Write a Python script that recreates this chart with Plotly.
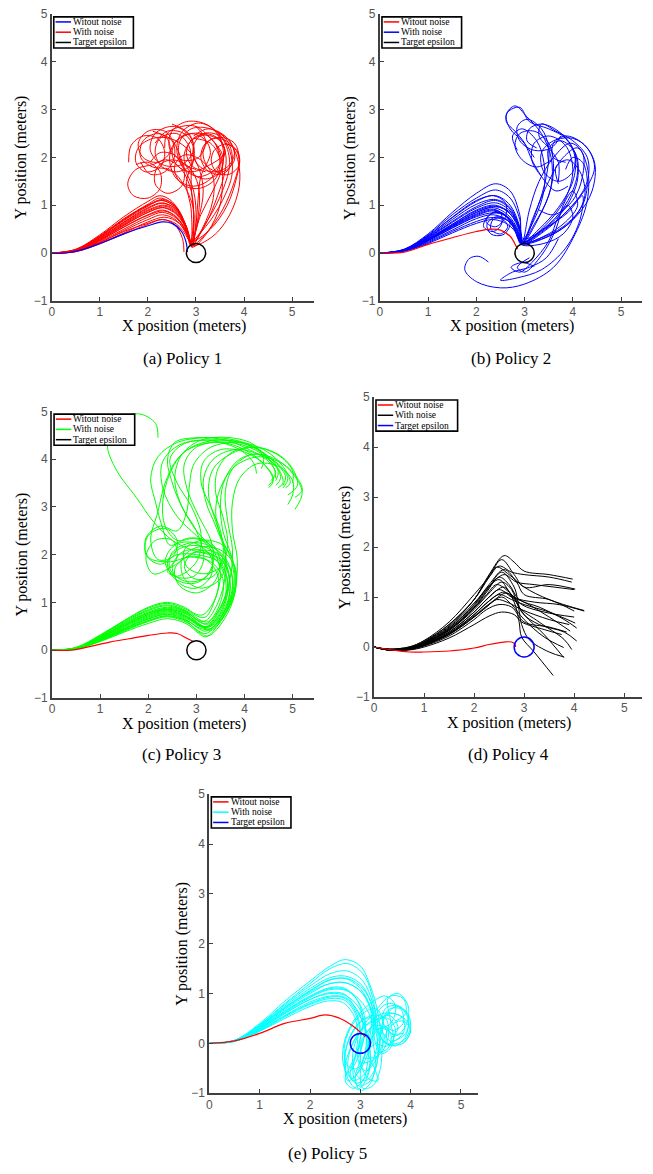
import plotly.graph_objects as go

W, H = 653, 1174

# ---------------- DATA ----------------
X_TITLE = "X position (meters)"
Y_TITLE = "Y position (meters)"
LEGEND_LABELS = ["Witout noise", "With noise", "Target epsilon"]
CAPTIONS = ["(a) Policy 1", "(b) Policy 2", "(c) Policy 3", "(d) Policy 4", "(e) Policy 5"]
X_TICKS = [0, 1, 2, 3, 4, 5]
Y_TICKS = [-1, 0, 1, 2, 3, 4, 5]
TARGET_CENTER = (3.0, 0.0)
TARGET_RADIUS = 0.2

# Policy 1
P1_NOMINAL = [(0, 0), (0.3, 0.0), (0.6, 0.06), (1, 0.2), (1.5, 0.4), (2, 0.57), (2.3, 0.65),
              (2.5, 0.62), (2.7, 0.45), (2.8, 0.2), (2.82, 0.02)]
P1_NOISY = [
    [(0, 0), (0.5, 0.03), (1, 0.2), (1.5, 0.42), (2, 0.65), (2.35, 0.75), (2.65, 0.62), (2.85, 0.3), (2.92, 0.12),
     (3.0, 0.6), (3.05, 1.2), (3.1, 1.6), (3.3, 2.1), (3.18, 2.38), (2.9, 2.5), (2.62, 2.38), (2.5, 2.1), (2.62, 1.82),
     (2.9, 1.7), (3.2, 1.8), (3.6, 2.1), (3.48, 2.38), (3.2, 2.5), (2.92, 2.38), (2.8, 2.1), (2.92, 1.82), (3.2, 1.7)],
    [(0, 0), (0.5, 0.04), (1, 0.24), (1.5, 0.5), (2, 0.75), (2.3, 0.85), (2.6, 0.72), (2.82, 0.4), (2.9, 0.15),
     (3.2, 0.4), (3.55, 0.9), (3.8, 1.5), (3.9, 1.95), (3.8, 2.3), (3.5, 2.42), (3.2, 2.3), (3.1, 2.0), (3.25, 1.72),
     (3.55, 1.65), (3.75, 1.9), (3.65, 2.35), (3.3, 2.6), (2.9, 2.6), (2.65, 2.3), (2.7, 1.9), (3.0, 1.75)],
    [(0, 0), (0.5, 0.05), (1, 0.28), (1.5, 0.58), (2, 0.85), (2.3, 0.95), (2.6, 0.8), (2.82, 0.45), (2.9, 0.2),
     (3.05, 0.7), (3.15, 1.3), (3.05, 1.8), (2.8, 2.2), (2.45, 2.4), (2.1, 2.4), (1.8, 2.2), (1.75, 1.9), (1.95, 1.7),
     (2.25, 1.8), (2.35, 2.1), (2.2, 2.4), (1.9, 2.45), (1.65, 2.25), (1.6, 1.9)],
    [(0, 0), (0.5, 0.06), (1, 0.32), (1.5, 0.65), (2, 0.95), (2.3, 1.05), (2.6, 0.9), (2.8, 0.5), (2.88, 0.22),
     (2.95, 0.7), (2.9, 1.3), (2.7, 1.75), (2.4, 1.95), (2.1, 1.85), (1.75, 1.75), (1.58, 1.45), (1.7, 1.2),
     (2.0, 1.15), (2.25, 1.35), (2.25, 1.7), (2.0, 1.9), (1.75, 1.85)],
    [(0, 0), (0.5, 0.07), (1, 0.36), (1.5, 0.72), (2, 1.02), (2.25, 1.15), (2.55, 1.0), (2.78, 0.6), (2.9, 0.25),
     (3.3, 0.5), (3.65, 1.0), (3.85, 1.6), (3.9, 1.95), (3.8, 2.2), (3.6, 2.28), (3.38, 2.15), (3.32, 1.9),
     (3.45, 1.68), (3.7, 1.65), (3.9, 1.85), (3.85, 2.15), (3.6, 2.3)],
    [(0, 0), (0.5, 0.04), (1, 0.22), (1.5, 0.47), (2, 0.7), (2.3, 0.8), (2.6, 0.68), (2.83, 0.35), (2.92, 0.15),
     (2.95, 0.8), (2.9, 1.4), (2.9, 1.9), (2.85, 2.25), (2.6, 2.5), (2.25, 2.4), (2.15, 2.1), (2.3, 1.8), (2.6, 1.7),
     (2.9, 1.85), (2.95, 2.2), (2.75, 2.5), (2.4, 2.55), (2.15, 2.3)],
    [(0, 0), (0.5, 0.05), (1, 0.3), (1.5, 0.62), (2, 0.9), (2.35, 1.0), (2.62, 0.85), (2.82, 0.45), (2.9, 0.18),
     (3.2, 0.6), (3.45, 1.2), (3.6, 1.7), (3.62, 2.05), (3.5, 2.35), (3.2, 2.47), (2.9, 2.35), (2.75, 2.0),
     (2.9, 1.68), (3.2, 1.55), (3.5, 1.7), (3.55, 2.05), (3.3, 2.4), (3.0, 2.65), (2.7, 2.65), (2.4, 2.5), (2.35, 2.2)],
    [(0, 0), (0.5, 0.06), (1, 0.34), (1.5, 0.7), (2, 1.0), (2.3, 1.1), (2.58, 0.95), (2.8, 0.55), (2.9, 0.22),
     (3.1, 0.8), (3.35, 1.3), (3.55, 1.8), (3.55, 2.25), (3.35, 2.6), (3.05, 2.72), (2.72, 2.55), (2.6, 2.2),
     (2.72, 1.8), (3.05, 1.6), (3.4, 1.75), (3.6, 2.1), (3.45, 2.5)],
    [(0, 0), (0.5, 0.05), (1, 0.26), (1.5, 0.55), (2, 0.8), (2.3, 0.9), (2.6, 0.75), (2.83, 0.38), (2.92, 0.15),
     (3.0, 0.7), (2.95, 1.3), (2.75, 1.8), (2.6, 2.2), (2.35, 2.55), (2.0, 2.55), (1.8, 2.3), (1.9, 2.0), (2.2, 1.9),
     (2.45, 2.1), (2.4, 2.4), (2.1, 2.55)],
    [(0, 0), (0.5, 0.08), (1, 0.38), (1.5, 0.76), (2, 1.08), (2.25, 1.2), (2.5, 1.08), (2.75, 0.65), (2.88, 0.25),
     (3.2, 0.55), (3.55, 1.1), (3.75, 1.65), (3.7, 2.15), (3.5, 2.45), (3.15, 2.5), (2.95, 2.25), (3.0, 1.9),
     (3.3, 1.7), (3.65, 1.8), (3.8, 2.1), (3.6, 2.45), (3.25, 2.6), (2.95, 2.45)],
    [(0, 0), (0.5, 0.03), (1, 0.19), (1.5, 0.4), (2, 0.6), (2.3, 0.7), (2.6, 0.6), (2.82, 0.32), (2.92, 0.12),
     (3.25, 0.45), (3.5, 1.0), (3.55, 1.6), (3.5, 2.1), (3.25, 2.45), (2.9, 2.5), (2.55, 2.3), (2.45, 1.95),
     (2.6, 1.55), (2.95, 1.4), (3.3, 1.55), (3.5, 1.9), (3.4, 2.3)],
    [(0, 0), (0.5, 0.05), (1, 0.3), (1.5, 0.6), (2, 0.88), (2.35, 0.98), (2.62, 0.82), (2.82, 0.45), (2.9, 0.2),
     (2.95, 0.9), (2.7, 1.5), (2.45, 1.75), (2.1, 1.8), (1.85, 2.0), (1.9, 2.35), (2.2, 2.5), (2.5, 2.35),
     (2.55, 2.0), (2.35, 1.7), (2.05, 1.65), (1.85, 1.9)],
    [(0, 0), (0.5, 0.03), (1, 0.22), (1.5, 0.45), (2, 0.62), (2.3, 0.7), (2.55, 0.6), (2.72, 0.3), (2.75, 0.02)],
    [(0, 0), (0.5, 0.07), (1, 0.35), (1.5, 0.7), (2, 1.0), (2.3, 1.12), (2.58, 0.98), (2.8, 0.55), (2.9, 0.22),
     (3.05, 0.8), (3.05, 1.4), (2.85, 1.8), (2.5, 1.95), (2.2, 1.8), (2.15, 1.45), (2.4, 1.25), (2.7, 1.4),
     (2.75, 1.75), (2.55, 2.05), (2.25, 2.1), (2.05, 1.9)],
    [(0, 0), (0.5, 0.05), (1, 0.28), (1.5, 0.58), (2, 0.85), (2.35, 0.95), (2.62, 0.8), (2.84, 0.42), (2.92, 0.16),
     (3.35, 0.35), (3.7, 0.8), (3.9, 1.4), (3.88, 1.9), (3.7, 2.3), (3.35, 2.4), (3.15, 2.15), (3.25, 1.8),
     (3.55, 1.7), (3.8, 1.95), (3.7, 2.35), (3.4, 2.55)],
    [(0, 0), (0.5, 0.06), (1, 0.32), (1.5, 0.64), (2, 0.93), (2.3, 1.04), (2.6, 0.9), (2.82, 0.5), (2.9, 0.2),
     (2.9, 0.9), (2.8, 1.5), (2.95, 1.95), (2.9, 2.4), (2.55, 2.65), (2.15, 2.5), (2.05, 2.15), (2.3, 1.85),
     (2.7, 1.85), (2.95, 2.15), (2.85, 2.5), (2.5, 2.7)],
    [(0, 0), (0.5, 0.04), (1, 0.26), (1.5, 0.54), (2, 0.79), (2.33, 0.88), (2.6, 0.74), (2.83, 0.38), (2.91, 0.14),
     (3.15, 0.55), (3.35, 1.1), (3.35, 1.6), (3.1, 1.95), (2.75, 2.05), (2.55, 1.8), (2.7, 1.45), (3.05, 1.35),
     (3.4, 1.55), (3.5, 1.95), (3.3, 2.3), (2.95, 2.4)],
    [(0, 0), (0.5, 0.06), (1, 0.34), (1.5, 0.68), (2, 0.98), (2.28, 1.1), (2.55, 0.97), (2.78, 0.56), (2.89, 0.22),
     (3.25, 0.7), (3.55, 1.3), (3.7, 1.9), (3.55, 2.4), (3.2, 2.7), (2.8, 2.75), (2.5, 2.55), (2.45, 2.2),
     (2.7, 1.95), (3.05, 2.0), (3.2, 2.35), (3.0, 2.65)],
]

# Policy 2
P2_NOMINAL = [(0, 0), (0.5, 0.02), (1, 0.18), (1.5, 0.32), (2, 0.45), (2.3, 0.5), (2.5, 0.48), (2.7, 0.35),
              (2.82, 0.15), (2.85, 0.08)]
P2_NOISY = [
    [(0, 0), (0.5, 0.05), (1, 0.27), (1.5, 0.55), (2, 0.8), (2.35, 0.9), (2.65, 0.76), (2.85, 0.45), (2.95, 0.22),
     (3.3, 0.5), (3.7, 0.95), (4.0, 1.5), (4.05, 2.0), (3.85, 2.4), (3.5, 2.6), (3.1, 2.75), (2.9, 3.05),
     (2.65, 2.95), (2.62, 2.75), (2.8, 2.55), (3.0, 2.3), (3.15, 1.95), (3.35, 1.6)],
    [(0, 0), (0.5, 0.05), (1, 0.3), (1.5, 0.6), (2, 0.9), (2.4, 1.0), (2.7, 0.82), (2.9, 0.45), (2.97, 0.2),
     (3.4, 0.45), (3.9, 0.9), (4.3, 1.4), (4.45, 1.8), (4.3, 2.2), (4.0, 2.4), (3.6, 2.35), (3.35, 2.1),
     (3.4, 1.7), (3.7, 1.5), (4.0, 1.7), (4.05, 2.1)],
    [(0, 0), (0.5, 0.04), (1, 0.24), (1.5, 0.48), (2, 0.72), (2.35, 0.8), (2.65, 0.68), (2.85, 0.4), (2.93, 0.2),
     (3.2, 0.6), (3.5, 1.2), (3.6, 1.8), (3.5, 2.3), (3.2, 2.55), (2.9, 2.5), (2.8, 2.25), (2.95, 1.95),
     (3.25, 1.8), (3.55, 1.95)],
    [(0, 0), (0.5, 0.06), (1, 0.33), (1.5, 0.66), (2, 0.97), (2.4, 1.1), (2.7, 0.92), (2.9, 0.5), (2.96, 0.22),
     (3.5, 0.55), (4.0, 1.0), (4.3, 1.5), (4.3, 2.0), (4.0, 2.35), (3.65, 2.55), (3.35, 2.7), (3.3, 2.45),
     (3.5, 2.2), (3.7, 1.9), (3.7, 1.5)],
    [(0, 0), (0.5, 0.08), (1, 0.4), (1.5, 0.85), (2, 1.25), (2.4, 1.45), (2.7, 1.3), (2.9, 0.8), (2.97, 0.3),
     (3.5, 0.6), (3.9, 1.1), (4.1, 1.7), (4.0, 2.2), (3.7, 2.55), (3.35, 2.7), (3.1, 2.6), (3.05, 2.35),
     (3.25, 2.2)],
    [(0, 0), (0.5, 0.04), (1, 0.22), (1.5, 0.45), (2, 0.66), (2.3, 0.74), (2.55, 0.7), (2.65, 0.55), (2.5, 0.4),
     (2.3, 0.5), (2.35, 0.7), (2.6, 0.72), (2.82, 0.45), (2.93, 0.2), (3.3, 0.3), (3.8, 0.55), (4.2, 1.0),
     (4.3, 1.5), (4.2, 1.9), (4.0, 2.0), (3.85, 1.75)],
    [(0, 0), (0.5, 0.06), (1, 0.32), (1.5, 0.64), (2, 0.94), (2.4, 1.05), (2.7, 0.88), (2.9, 0.5), (2.96, 0.22),
     (3.2, 0.8), (3.5, 1.5), (3.8, 2.0), (4.1, 2.2), (4.3, 1.8), (4.3, 1.1), (4.05, 0.4), (3.6, -0.3),
     (3.0, -0.65), (2.5, -0.73), (2.0, -0.6), (1.76, -0.35), (1.85, -0.12), (2.05, -0.07), (2.25, -0.19)],
    [(0, 0), (0.5, 0.05), (1, 0.29), (1.5, 0.58), (2, 0.85), (2.35, 0.95), (2.65, 0.8), (2.88, 0.45), (2.95, 0.22),
     (3.4, 0.5), (3.9, 0.85), (4.2, 1.2), (4.15, 0.7), (3.85, 0.1), (3.35, -0.35), (2.85, -0.52), (2.5, -0.57),
     (2.75, -0.4), (3.1, -0.3), (3.45, -0.1), (3.7, 0.3)],
    [(0, 0), (0.5, 0.07), (1, 0.36), (1.5, 0.75), (2, 1.1), (2.4, 1.2), (2.7, 1.0), (2.9, 0.55), (2.96, 0.25),
     (3.1, 0.9), (3.3, 1.5), (3.6, 2.0), (3.95, 2.3), (4.2, 2.1), (4.2, 1.6), (4.0, 1.1), (3.6, 0.8), (3.3, 0.9)],
    [(0, 0), (0.5, 0.05), (1, 0.26), (1.5, 0.52), (2, 0.76), (2.35, 0.84), (2.6, 0.78), (2.7, 0.6), (2.55, 0.38),
     (2.3, 0.4), (2.22, 0.6), (2.42, 0.76), (2.72, 0.62), (2.92, 0.25), (3.2, 0.7), (3.4, 1.3), (3.4, 1.9),
     (3.25, 2.35), (2.95, 2.6), (2.75, 2.45), (2.85, 2.15)],
    [(0, 0), (0.5, 0.07), (1, 0.38), (1.5, 0.8), (2, 1.15), (2.4, 1.32), (2.7, 1.15), (2.9, 0.7), (2.97, 0.25),
     (3.6, 0.4), (4.1, 0.8), (4.4, 1.3), (4.45, 1.9), (4.2, 2.3), (3.85, 2.45), (3.6, 2.3), (3.6, 2.0), (3.85, 1.9)],
    [(0, 0), (0.5, 0.04), (1, 0.2), (1.5, 0.42), (2, 0.62), (2.35, 0.7), (2.65, 0.6), (2.85, 0.38), (2.92, 0.18),
     (3.4, 0.2), (3.8, 0.4), (4.0, 0.75), (3.9, 1.0), (3.7, 0.75), (3.5, 0.25), (3.15, -0.2), (2.9, -0.4),
     (2.72, -0.3), (2.95, -0.2), (3.2, -0.28)],
    [(0, 0), (0.5, 0.05), (1, 0.28), (1.5, 0.57), (2, 0.85), (2.4, 0.97), (2.7, 0.85), (2.9, 0.5), (2.95, 0.2),
     (3.3, 0.75), (3.55, 1.4), (3.55, 2.0), (3.35, 2.5), (3.05, 2.85), (2.8, 3.08), (2.62, 2.9), (2.7, 2.6),
     (2.95, 2.35), (3.2, 2.0)],
    [(0, 0), (0.5, 0.05), (1, 0.3), (1.5, 0.6), (2, 0.88), (2.4, 0.98), (2.7, 0.82), (2.9, 0.48), (2.96, 0.22),
     (3.45, 0.6), (3.85, 1.15), (4.0, 1.75), (3.85, 2.25), (3.5, 2.45), (3.2, 2.3), (3.15, 1.95), (3.35, 1.6),
     (3.65, 1.3), (3.9, 1.4)],
    [(0, 0), (0.5, 0.07), (1, 0.36), (1.5, 0.74), (2, 1.08), (2.35, 1.2), (2.6, 1.05), (2.6, 0.75), (2.4, 0.55),
     (2.2, 0.65), (2.35, 0.85), (2.65, 0.75), (2.88, 0.42), (2.95, 0.2), (3.5, 0.35), (4.0, 0.7), (4.25, 1.2),
     (4.15, 1.7), (3.9, 1.95), (3.65, 1.8), (3.7, 1.45)],
    [(0, 0), (0.5, 0.05), (1, 0.26), (1.5, 0.53), (2, 0.78), (2.35, 0.88), (2.65, 0.74), (2.86, 0.42), (2.94, 0.2),
     (3.4, 0.35), (3.85, 0.65), (4.1, 1.0), (4.0, 1.3), (3.8, 1.0), (3.65, 0.5), (3.35, -0.05), (3.0, -0.4),
     (2.85, -0.3), (3.1, -0.1)],
    [(0, 0), (0.5, 0.06), (1, 0.34), (1.5, 0.7), (2, 1.02), (2.4, 1.12), (2.7, 0.95), (2.9, 0.5), (2.96, 0.22),
     (3.25, 0.9), (3.45, 1.6), (3.5, 2.2), (3.35, 2.6), (3.05, 2.8), (2.85, 2.65), (2.9, 2.35), (3.2, 2.15),
     (3.55, 2.2), (3.75, 2.45)],
    [(0, 0), (0.5, 0.05), (1, 0.28), (1.5, 0.56), (2, 0.82), (2.3, 0.92), (2.5, 0.85), (2.52, 0.6), (2.35, 0.45),
     (2.15, 0.55), (2.25, 0.78), (2.5, 0.85), (2.75, 0.6), (2.93, 0.22), (3.4, 0.5), (3.85, 0.95), (4.1, 1.55),
     (4.05, 2.1), (3.75, 2.35), (3.5, 2.2), (3.5, 1.9)],
]

# Policy 3
P3_NOMINAL = [(0, 0), (0.4, 0.0), (0.8, 0.08), (1.2, 0.17), (1.6, 0.24), (2, 0.31), (2.4, 0.36), (2.6, 0.35),
              (2.8, 0.25), (2.95, 0.17)]
P3_NOISY = [
    [(0, 0), (0.5, 0.03), (1, 0.2), (1.5, 0.42), (2, 0.62), (2.4, 0.72), (2.8, 0.62), (3.1, 0.45), (3.3, 0.45),
     (3.6, 0.85), (3.75, 1.35), (3.65, 1.85), (3.35, 2.15), (2.9, 2.25), (2.5, 2.05), (2.45, 1.7), (2.75, 1.45),
     (3.15, 1.5), (3.35, 1.85), (3.3, 2.3), (3.05, 2.8), (2.8, 3.4), (2.75, 3.9), (3.0, 4.25), (3.5, 4.35),
     (4.0, 4.2), (4.4, 3.9), (4.6, 3.55), (4.5, 3.4)],
    [(0, 0), (0.5, 0.04), (1, 0.24), (1.5, 0.5), (2, 0.72), (2.4, 0.82), (2.8, 0.7), (3.1, 0.5), (3.25, 0.48),
     (3.55, 0.8), (3.7, 1.3), (3.6, 1.8), (3.2, 2.15), (2.7, 2.15), (2.4, 1.85), (2.55, 1.5), (2.95, 1.4),
     (3.3, 1.65), (3.3, 2.1), (3.0, 2.4), (2.6, 2.8), (2.3, 3.4), (2.3, 3.95), (2.65, 4.3), (3.2, 4.4),
     (3.9, 4.35), (4.5, 4.05), (4.85, 3.65), (4.8, 3.45)],
    [(0, 0), (0.5, 0.05), (1, 0.28), (1.5, 0.56), (2, 0.8), (2.4, 0.9), (2.8, 0.8), (3.05, 0.6), (3.2, 0.55),
     (3.5, 0.9), (3.7, 1.5), (3.75, 2.1), (3.65, 2.7), (3.6, 3.3), (3.75, 3.8), (4.15, 4.1), (4.65, 4.0),
     (5.0, 3.7), (5.2, 3.3), (5.05, 2.95)],
    [(0, 0), (0.5, 0.03), (1, 0.18), (1.5, 0.38), (2, 0.56), (2.4, 0.66), (2.8, 0.55), (3.05, 0.35), (3.2, 0.28),
     (3.5, 0.6), (3.8, 1.2), (3.8, 1.75), (3.5, 2.1), (3.0, 2.15), (2.7, 1.9), (2.75, 1.5), (3.1, 1.3), (3.5, 1.5),
     (3.6, 2.0), (3.4, 2.6), (3.2, 3.1), (3.15, 3.6), (3.35, 4.0), (3.8, 4.2), (4.3, 4.1), (4.7, 3.8), (4.8, 3.5),
     (4.7, 3.4)],
    [(0, 0), (0.5, 0.04), (1, 0.22), (1.5, 0.46), (2, 0.68), (2.4, 0.78), (2.8, 0.68), (3.1, 0.5), (3.25, 0.5),
     (3.55, 0.9), (3.6, 1.5), (3.35, 1.95), (2.9, 2.1), (2.5, 2.3), (2.1, 2.7), (1.75, 3.2), (1.35, 3.75),
     (1.15, 4.3), (1.35, 4.8), (1.8, 4.95), (2.15, 4.75), (2.2, 4.45)],
    [(0, 0), (0.5, 0.05), (1, 0.3), (1.5, 0.6), (2, 0.85), (2.4, 0.95), (2.8, 0.82), (3.1, 0.62), (3.25, 0.6),
     (3.5, 1.0), (3.55, 1.5), (3.3, 1.85), (2.85, 1.95), (2.45, 1.85), (2.0, 1.95), (1.95, 2.35), (2.25, 2.6),
     (2.6, 2.5), (2.8, 2.9), (2.85, 3.4), (2.95, 3.9), (3.3, 4.25), (3.9, 4.35), (4.4, 4.2), (4.8, 3.85),
     (4.95, 3.5), (4.85, 3.4)],
    [(0, 0), (0.5, 0.04), (1, 0.26), (1.5, 0.52), (2, 0.75), (2.4, 0.85), (2.8, 0.75), (3.1, 0.52), (3.3, 0.42),
     (3.6, 0.75), (3.8, 1.3), (3.75, 1.9), (3.55, 2.5), (3.5, 3.1), (3.6, 3.6), (3.9, 4.0), (4.3, 4.1),
     (4.7, 3.9), (4.9, 3.6), (4.8, 3.4)],
    [(0, 0), (0.5, 0.05), (1, 0.27), (1.5, 0.55), (2, 0.78), (2.4, 0.88), (2.8, 0.78), (3.1, 0.58), (3.25, 0.55),
     (3.5, 0.9), (3.65, 1.4), (3.5, 1.85), (3.1, 2.1), (2.7, 2.05), (2.5, 1.75), (2.65, 1.4), (3.0, 1.3),
     (3.3, 1.55), (3.3, 1.95), (2.95, 2.25), (2.55, 2.2), (2.35, 1.85), (2.55, 1.55), (2.95, 1.55), (3.15, 1.9),
     (3.0, 2.5), (2.7, 3.0), (2.55, 3.6), (2.7, 4.1), (3.1, 4.4), (3.7, 4.45), (4.2, 4.3), (4.4, 4.0), (4.35, 3.8)],
    [(0, 0), (0.5, 0.03), (1, 0.21), (1.5, 0.44), (2, 0.65), (2.4, 0.75), (2.8, 0.63), (3.05, 0.45), (3.2, 0.4),
     (3.55, 0.7), (3.75, 1.2), (3.7, 1.7), (3.4, 2.05), (2.95, 2.05), (2.75, 1.75), (2.95, 1.5), (3.35, 1.55),
     (3.55, 1.95), (3.5, 2.5), (3.3, 3.0), (3.1, 3.5), (3.15, 3.95), (3.5, 4.2), (4.0, 4.15), (4.4, 3.9),
     (4.6, 3.6), (4.5, 3.45)],
    [(0, 0), (0.5, 0.05), (1, 0.29), (1.5, 0.58), (2, 0.83), (2.4, 0.93), (2.8, 0.8), (3.05, 0.62), (3.2, 0.62),
     (3.45, 1.0), (3.6, 1.55), (3.6, 2.1), (3.4, 2.7), (3.25, 3.3), (3.35, 3.8), (3.7, 4.1), (4.2, 4.25),
     (4.7, 4.1), (5.0, 3.8), (5.1, 3.45), (4.9, 3.25)],
    [(0, 0), (0.5, 0.04), (1, 0.23), (1.5, 0.48), (2, 0.7), (2.4, 0.8), (2.8, 0.7), (3.1, 0.5), (3.3, 0.5),
     (3.6, 0.85), (3.7, 1.4), (3.5, 1.9), (3.0, 2.05), (2.5, 1.75), (2.1, 1.6), (1.95, 1.95), (2.15, 2.3),
     (2.5, 2.3), (2.6, 1.95), (2.4, 1.65), (2.6, 1.55), (3.0, 1.85), (3.1, 2.4), (2.9, 3.0), (2.6, 3.5),
     (2.45, 4.0), (2.7, 4.3), (3.2, 4.4), (3.9, 4.2), (4.2, 3.9), (4.25, 3.7)],
    [(0, 0), (0.5, 0.06), (1, 0.32), (1.5, 0.62), (2, 0.88), (2.4, 0.98), (2.8, 0.85), (3.05, 0.7), (3.2, 0.7),
     (3.4, 1.1), (3.5, 1.6), (3.35, 2.1), (3.0, 2.5), (2.7, 3.0), (2.5, 3.5), (2.4, 4.0), (2.55, 4.35),
     (3.0, 4.45), (3.6, 4.4), (4.1, 4.2), (4.5, 3.95), (4.65, 3.7), (4.55, 3.55)],
    [(0, 0), (0.5, 0.03), (1, 0.19), (1.5, 0.4), (2, 0.6), (2.4, 0.7), (2.8, 0.58), (3.05, 0.4), (3.2, 0.35),
     (3.55, 0.7), (3.8, 1.3), (3.85, 1.9), (3.75, 2.5), (3.75, 3.1), (3.9, 3.6), (4.25, 3.9), (4.7, 3.85),
     (5.0, 3.55), (5.0, 3.25), (4.9, 3.05)],
    [(0, 0), (0.5, 0.05), (1, 0.26), (1.5, 0.53), (2, 0.77), (2.4, 0.86), (2.8, 0.76), (3.05, 0.55), (3.22, 0.5),
     (3.5, 0.85), (3.68, 1.35), (3.6, 1.85), (3.3, 2.2), (2.85, 2.35), (2.45, 2.2), (2.3, 2.55), (2.15, 3.1),
     (2.05, 3.6), (2.2, 4.05), (2.6, 4.35), (3.2, 4.45), (3.8, 4.4), (4.3, 4.2), (4.6, 3.85), (4.65, 3.6)],
    [(0, 0), (0.5, 0.04), (1, 0.25), (1.5, 0.51), (2, 0.74), (2.4, 0.84), (2.8, 0.72), (3.08, 0.52), (3.25, 0.5),
     (3.55, 0.85), (3.65, 1.4), (3.45, 1.85), (3.0, 2.0), (2.6, 2.0), (2.25, 1.8), (1.95, 2.0), (2.0, 2.4),
     (2.35, 2.55), (2.6, 2.3), (2.5, 1.95), (2.2, 1.9), (2.05, 2.3), (2.2, 2.9), (2.35, 3.5), (2.6, 4.0),
     (3.0, 4.3), (3.6, 4.4), (4.2, 4.25), (4.6, 3.95), (4.75, 3.6), (4.65, 3.45)],
    [(0, 0), (0.5, 0.04), (1, 0.22), (1.5, 0.45), (2, 0.66), (2.4, 0.76), (2.8, 0.66), (3.1, 0.48), (3.28, 0.45),
     (3.58, 0.8), (3.78, 1.35), (3.72, 1.9), (3.5, 2.4), (3.4, 2.9), (3.5, 3.4), (3.8, 3.85), (4.3, 4.05),
     (4.8, 3.9), (5.1, 3.6), (5.2, 3.35), (5.05, 3.2)],
    [(0, 0), (0.5, 0.05), (1, 0.3), (1.5, 0.62), (2, 0.9), (2.4, 1.0), (2.75, 0.9), (3.0, 0.75), (3.15, 0.75),
     (3.4, 1.1), (3.45, 1.55), (3.2, 1.9), (2.8, 1.95), (2.55, 1.7), (2.65, 1.35), (3.0, 1.2), (3.35, 1.4),
     (3.5, 1.8), (3.35, 2.2), (3.0, 2.35), (2.6, 2.3), (2.35, 2.6), (2.3, 3.1), (2.45, 3.7), (2.75, 4.15),
     (3.3, 4.35), (3.95, 4.3), (4.45, 4.05), (4.7, 3.75), (4.65, 3.55)],
    [(0, 0), (0.5, 0.03), (1, 0.2), (1.5, 0.42), (2, 0.62), (2.4, 0.72), (2.8, 0.6), (3.05, 0.38), (3.25, 0.3),
     (3.58, 0.65), (3.8, 1.2), (3.78, 1.8), (3.55, 2.2), (3.1, 2.3), (2.75, 2.1), (2.8, 1.75), (3.15, 1.6),
     (3.5, 1.75), (3.65, 2.2), (3.55, 2.8), (3.4, 3.3), (3.45, 3.8), (3.75, 4.15), (4.25, 4.25), (4.75, 4.05),
     (5.0, 3.75), (5.0, 3.5)],
]

# Policy 4
P4_NOMINAL = [(0, 0), (0.3, -0.05), (0.7, -0.1), (1.0, -0.1), (1.5, -0.08), (2.0, -0.02), (2.3, 0.05),
              (2.6, 0.1), (2.75, 0.1), (2.82, 0.05), (2.83, 0.0)]
P4_NOISY = [
    [(0, 0), (0.3, -0.05), (0.7, -0.02), (1, 0.1), (1.5, 0.45), (2, 0.95), (2.3, 1.45), (2.6, 1.83),
     (2.8, 1.7), (3.0, 1.52), (3.5, 1.45), (3.97, 1.36)],
    [(0, 0), (0.3, -0.04), (0.7, 0.0), (1, 0.12), (1.5, 0.45), (2, 0.95), (2.3, 1.4), (2.55, 1.75),
     (2.8, 1.45), (3.0, 1.2), (3.5, 1.25), (4.02, 1.16)],
    [(0, 0), (0.3, -0.05), (0.7, -0.02), (1, 0.1), (1.5, 0.42), (2, 0.95), (2.25, 1.35), (2.45, 1.6),
     (2.7, 1.45), (3.0, 1.2), (3.5, 0.95), (4.2, 0.73)],
    [(0, 0), (0.3, -0.05), (0.7, -0.03), (1, 0.08), (1.5, 0.38), (2, 0.85), (2.3, 1.25), (2.6, 1.55),
     (2.85, 1.3), (3.0, 1.05), (3.5, 0.95), (4.0, 0.72)],
    [(0, 0), (0.3, -0.06), (0.7, -0.04), (1, 0.06), (1.5, 0.35), (2, 0.8), (2.3, 1.2), (2.55, 1.5),
     (2.8, 1.2), (2.95, 0.7), (3.3, 0.45), (3.8, 0.3), (4.05, 0.12)],
    [(0, 0), (0.3, -0.05), (0.7, -0.02), (1, 0.08), (1.5, 0.35), (2, 0.78), (2.25, 1.1), (2.5, 1.4),
     (2.7, 1.25), (2.9, 0.95), (3.3, 0.8), (3.8, 0.55), (4.05, 0.38)],
    [(0, 0), (0.3, -0.05), (0.7, -0.03), (1, 0.07), (1.5, 0.33), (2, 0.75), (2.3, 1.08), (2.55, 1.3),
     (2.75, 1.15), (2.9, 0.8), (3.3, 0.5), (3.8, 0.15), (3.95, -0.05)],
    [(0, 0), (0.3, -0.06), (0.7, -0.04), (1, 0.05), (1.5, 0.3), (2, 0.7), (2.3, 1.0), (2.6, 1.2),
     (2.8, 0.9), (2.9, 0.5), (2.95, 0.2), (3.2, -0.1), (3.58, -0.57)],
    [(0, 0), (0.3, -0.05), (0.7, -0.03), (1, 0.06), (1.5, 0.3), (2, 0.7), (2.25, 0.95), (2.5, 1.15),
     (2.75, 1.0), (3.0, 0.9), (3.5, 0.6), (3.92, 0.32)],
    [(0, 0), (0.3, -0.06), (0.7, -0.04), (1, 0.04), (1.5, 0.27), (2, 0.65), (2.3, 0.92), (2.6, 1.1),
     (2.8, 0.95), (3.0, 0.65), (3.4, 0.25), (3.79, -0.21)],
    [(0, 0), (0.3, -0.05), (0.7, -0.04), (1, 0.05), (1.5, 0.28), (2, 0.65), (2.25, 0.88), (2.5, 1.05),
     (2.75, 0.95), (3.0, 0.85), (3.5, 0.7), (4.02, 0.48)],
    [(0, 0), (0.3, -0.06), (0.7, -0.05), (1, 0.03), (1.5, 0.25), (2, 0.6), (2.3, 0.85), (2.55, 1.0),
     (2.75, 0.85), (3.0, 0.55), (3.4, 0.2), (3.79, -0.01)],
    [(0, 0), (0.3, -0.05), (0.7, -0.04), (1, 0.04), (1.5, 0.25), (2, 0.6), (2.25, 0.8), (2.45, 0.95),
     (2.7, 0.88), (2.95, 0.75), (3.5, 0.55), (3.9, 0.45)],
    [(0, 0), (0.3, -0.06), (0.7, -0.05), (1, 0.02), (1.5, 0.22), (2, 0.55), (2.25, 0.75), (2.5, 0.85),
     (2.75, 0.8), (3.0, 0.5), (3.5, 0.4), (3.85, 0.3)],
    [(0, 0), (0.3, -0.06), (0.7, -0.06), (1, 0.0), (1.5, 0.18), (2, 0.45), (2.3, 0.62), (2.55, 0.7),
     (2.8, 0.65), (2.95, 0.5), (3.4, 0.35), (3.75, 0.25)],
    [(0, 0), (0.3, -0.05), (0.7, -0.02), (1, 0.09), (1.5, 0.4), (2, 0.88), (2.3, 1.22), (2.6, 1.45),
     (2.85, 1.3), (3.2, 1.25), (3.6, 1.2), (4.0, 1.15)],
    [(0, 0), (0.3, -0.04), (0.7, 0.0), (1, 0.13), (1.5, 0.5), (2, 1.05), (2.3, 1.4), (2.5, 1.62),
     (2.75, 1.5), (3.0, 1.45), (3.5, 1.4), (3.95, 1.3)],
    [(0, 0), (0.3, -0.05), (0.7, -0.03), (1, 0.07), (1.5, 0.33), (2, 0.78), (2.25, 1.05), (2.45, 1.25),
     (2.7, 1.1), (2.95, 0.85), (3.4, 0.7), (4.0, 0.6)],
    [(0, 0), (0.3, -0.06), (0.7, -0.04), (1, 0.04), (1.5, 0.26), (2, 0.62), (2.35, 0.9), (2.65, 1.08),
     (2.85, 0.9), (2.95, 0.45), (3.1, 0.15), (3.5, -0.1), (3.8, -0.2)],
    [(0, 0), (0.3, -0.05), (0.7, -0.02), (1, 0.08), (1.5, 0.37), (2, 0.83), (2.25, 1.15), (2.5, 1.35),
     (2.8, 1.0), (3.2, 0.9), (3.7, 0.85), (4.2, 0.72)],
]

# Policy 5
P5_NOMINAL = [(0, 0), (0.5, 0.05), (1, 0.2), (1.5, 0.4), (2, 0.5), (2.3, 0.57), (2.6, 0.5), (2.85, 0.35),
              (3.05, 0.18), (3.1, 0.13)]
P5_NOISY = [
    [(0, 0), (0.5, 0.05), (1, 0.3), (1.5, 0.65), (2, 0.95), (2.4, 1.12), (2.7, 1.1), (2.95, 0.85), (3.05, 0.4),
     (2.95, -0.1), (2.85, -0.55), (2.95, -0.85), (3.2, -0.75), (3.35, -0.3), (3.4, 0.2), (3.5, 0.55),
     (3.75, 0.75), (3.95, 0.55), (3.9, 0.2), (3.6, 0.05), (3.4, 0.3)],
    [(0, 0), (0.5, 0.06), (1, 0.38), (1.5, 0.8), (2, 1.2), (2.4, 1.5), (2.75, 1.6), (3.05, 1.4), (3.25, 0.9),
     (3.3, 0.4), (3.15, -0.2), (2.95, -0.6), (2.75, -0.75), (2.7, -0.45), (2.85, 0.0), (3.1, 0.35), (3.45, 0.6),
     (3.8, 0.55), (4.0, 0.3), (3.85, 0.0), (3.5, 0.0), (3.35, 0.3)],
    [(0, 0), (0.5, 0.05), (1, 0.28), (1.5, 0.6), (2, 0.88), (2.4, 1.02), (2.7, 0.98), (2.9, 0.7), (3.1, 0.3),
     (3.2, -0.2), (3.15, -0.65), (2.95, -0.92), (2.75, -0.7), (2.7, -0.2), (2.85, 0.25), (3.1, 0.5),
     (3.35, 0.45), (3.45, 0.1), (3.3, -0.3), (3.05, -0.4)],
    [(0, 0), (0.5, 0.05), (1, 0.3), (1.5, 0.62), (2, 0.92), (2.4, 1.08), (2.75, 1.05), (3.05, 0.8), (3.25, 0.4),
     (3.3, 0.0), (3.45, -0.2), (3.65, 0.0), (3.6, 0.45), (3.55, 0.9), (3.75, 1.0), (3.95, 0.75), (3.9, 0.35),
     (3.7, 0.15), (3.5, 0.35)],
    [(0, 0), (0.5, 0.06), (1, 0.35), (1.5, 0.72), (2, 1.05), (2.4, 1.27), (2.7, 1.3), (3.0, 1.1), (3.2, 0.7),
     (3.2, 0.2), (3.05, -0.35), (2.85, -0.7), (2.7, -0.55), (2.72, -0.1), (2.9, 0.3), (3.2, 0.55), (3.5, 0.5),
     (3.55, 0.1), (3.35, -0.25), (3.05, -0.3)],
    [(0, 0), (0.5, 0.04), (1, 0.25), (1.5, 0.53), (2, 0.78), (2.4, 0.9), (2.7, 0.86), (2.9, 0.6), (3.0, 0.2),
     (3.0, -0.3), (2.9, -0.7), (3.0, -0.95), (3.2, -0.8), (3.3, -0.4), (3.25, 0.1), (3.3, 0.55), (3.55, 0.8),
     (3.8, 0.7), (3.85, 0.4), (3.65, 0.25)],
    [(0, 0), (0.5, 0.06), (1, 0.37), (1.5, 0.78), (2, 1.15), (2.4, 1.4), (2.75, 1.45), (3.05, 1.25), (3.25, 0.8),
     (3.35, 0.3), (3.3, -0.2), (3.1, -0.6), (2.85, -0.75), (2.75, -0.45), (2.85, 0.0), (3.05, 0.3), (3.35, 0.5),
     (3.6, 0.55), (3.75, 0.3), (3.6, 0.1)],
    [(0, 0), (0.5, 0.05), (1, 0.32), (1.5, 0.68), (2, 1.0), (2.4, 1.2), (2.75, 1.2), (3.05, 1.0), (3.25, 0.6),
     (3.35, 0.2), (3.55, 0.0), (3.85, 0.05), (4.0, 0.35), (3.9, 0.65), (3.6, 0.7), (3.45, 0.45), (3.6, 0.2),
     (3.85, 0.2)],
    [(0, 0), (0.5, 0.04), (1, 0.24), (1.5, 0.5), (2, 0.74), (2.35, 0.85), (2.65, 0.82), (2.85, 0.6), (2.95, 0.25),
     (2.9, -0.25), (2.8, -0.6), (2.9, -0.8), (3.1, -0.7), (3.2, -0.3), (3.15, 0.1), (3.3, 0.45), (3.55, 0.5),
     (3.7, 0.25), (3.55, -0.05), (3.3, 0.0)],
    [(0, 0), (0.5, 0.05), (1, 0.33), (1.5, 0.7), (2, 1.03), (2.4, 1.2), (2.7, 1.22), (3.0, 1.05), (3.2, 0.7),
     (3.3, 0.3), (3.35, -0.1), (3.3, -0.5), (3.1, -0.75), (2.9, -0.6), (2.85, -0.2), (3.0, 0.25), (3.3, 0.65),
     (3.6, 0.95), (3.85, 0.9), (3.9, 0.6), (3.7, 0.45)],
    [(0, 0), (0.5, 0.05), (1, 0.29), (1.5, 0.6), (2, 0.88), (2.4, 1.0), (2.7, 0.96), (2.95, 0.75), (3.1, 0.35),
     (3.1, -0.15), (2.95, -0.5), (2.75, -0.45), (2.68, -0.1), (2.8, 0.3), (3.05, 0.6), (3.3, 0.7), (3.45, 0.45),
     (3.35, 0.05), (3.15, -0.1)],
    [(0, 0), (0.5, 0.06), (1, 0.36), (1.5, 0.75), (2, 1.1), (2.4, 1.32), (2.7, 1.35), (3.0, 1.2), (3.2, 0.85),
     (3.3, 0.4), (3.45, 0.05), (3.7, -0.05), (3.9, 0.15), (3.95, 0.5), (3.75, 0.75), (3.5, 0.7), (3.45, 0.4),
     (3.65, 0.25)],
    [(0, 0), (0.5, 0.04), (1, 0.27), (1.5, 0.56), (2, 0.83), (2.4, 0.95), (2.7, 0.92), (2.95, 0.65), (3.1, 0.25),
     (3.15, -0.2), (3.3, -0.55), (3.35, -0.75), (3.15, -0.7), (3.0, -0.35), (3.05, 0.05), (3.25, 0.35),
     (3.5, 0.3), (3.5, 0.0)],
    [(0, 0), (0.5, 0.06), (1, 0.4), (1.5, 0.85), (2, 1.25), (2.4, 1.55), (2.7, 1.68), (3.0, 1.55), (3.2, 1.15),
     (3.35, 0.6), (3.4, 0.1), (3.3, -0.35), (3.1, -0.55), (2.95, -0.3), (3.05, 0.1), (3.3, 0.4), (3.6, 0.6),
     (3.85, 0.5), (3.85, 0.2), (3.6, 0.0)],
    [(0, 0), (0.5, 0.05), (1, 0.31), (1.5, 0.64), (2, 0.94), (2.4, 1.1), (2.7, 1.08), (2.95, 0.85), (3.1, 0.45),
     (3.05, 0.0), (2.9, -0.4), (2.75, -0.6), (2.65, -0.35), (2.7, 0.1), (2.9, 0.5), (3.2, 0.8), (3.5, 0.95),
     (3.7, 0.75), (3.6, 0.4), (3.35, 0.3)],
    [(0, 0), (0.5, 0.05), (1, 0.34), (1.5, 0.72), (2, 1.06), (2.4, 1.28), (2.75, 1.3), (3.05, 1.1), (3.25, 0.7),
     (3.25, 0.25), (3.1, -0.2), (3.0, -0.6), (3.05, -0.9), (3.25, -0.85), (3.4, -0.5), (3.45, 0.0), (3.6, 0.35),
     (3.85, 0.45), (4.0, 0.25), (3.85, 0.0)],
    [(0, 0), (0.5, 0.04), (1, 0.26), (1.5, 0.55), (2, 0.8), (2.4, 0.93), (2.7, 0.9), (2.9, 0.65), (3.0, 0.3),
     (2.95, -0.15), (2.8, -0.45), (2.7, -0.75), (2.85, -0.9), (3.05, -0.75), (3.15, -0.35), (3.2, 0.05),
     (3.4, 0.3), (3.6, 0.2), (3.55, -0.1), (3.3, -0.2)],
]

# ---------------- LAYOUT HELPERS ----------------
def px_x(p):
    return p / W


def px_y(p):
    return 1 - p / H


def flatten(trajs):
    xs, ys = [], []
    for t in trajs:
        for x, y in t:
            xs.append(x)
            ys.append(y)
        xs.append(None)
        ys.append(None)
    return xs, ys


panels = [
    dict(nom=P1_NOMINAL, noisy=P1_NOISY, c_nom="#0000ff", c_noise="#ff0000", c_tgt="#000000",
         l=49.0, r=312.7, t=7.3, b=297.3, xmax=5.46, ytitle_x=19, cap_x=180, cap_y=356, legw=80),
    dict(nom=P2_NOMINAL, noisy=P2_NOISY, c_nom="#ff0000", c_noise="#0000ff", c_tgt="#000000",
         l=378.7, r=641.7, t=7.3, b=297.3, xmax=5.43, ytitle_x=349, cap_x=510, cap_y=356, legw=80),
    dict(nom=P3_NOMINAL, noisy=P3_NOISY, c_nom="#ff0000", c_noise="#00ff00", c_tgt="#000000",
         l=49.3, r=312.7, t=409.3, b=699.3, xmax=5.45, ytitle_x=19, cap_x=179, cap_y=757, legw=81),
    dict(nom=P4_NOMINAL, noisy=P4_NOISY, c_nom="#ff0000", c_noise="#000000", c_tgt="#0000ff",
         l=372.7, r=641.7, t=395.0, b=698.3, xmax=5.35, ytitle_x=344, cap_x=508, cap_y=757, legw=82),
    dict(nom=P5_NOMINAL, noisy=P5_NOISY, c_nom="#ff0000", c_noise="#00ffff", c_tgt="#0000ff",
         l=207.3, r=477.3, t=796.7, b=1099.3, xmax=5.34, ytitle_x=180, cap_x=326, cap_y=1160, legw=80),
]

fig = go.Figure()
shapes = []
annotations = []
layout_axes = {}

SERIF = "Liberation Serif"
SANS = "Liberation Sans"

for i, p in enumerate(panels, start=1):
    xa = "x" if i == 1 else f"x{i}"
    ya = "y" if i == 1 else f"y{i}"
    xs, ys = flatten(p["noisy"])
    fig.add_trace(go.Scatter(x=xs, y=ys, mode="lines", xaxis=xa, yaxis=ya,
                             line=dict(color=p["c_noise"], width=1, shape="spline", smoothing=1.0),
                             hoverinfo="skip", connectgaps=False))
    nx = [q[0] for q in p["nom"]]
    ny = [q[1] for q in p["nom"]]
    fig.add_trace(go.Scatter(x=nx, y=ny, mode="lines", xaxis=xa, yaxis=ya,
                             line=dict(color=p["c_nom"], width=1.2, shape="spline", smoothing=1.0),
                             hoverinfo="skip"))
    cx, cy = TARGET_CENTER
    shapes.append(dict(type="circle", xref=xa, yref=ya,
                       x0=cx - TARGET_RADIUS, x1=cx + TARGET_RADIUS,
                       y0=cy - TARGET_RADIUS, y1=cy + TARGET_RADIUS,
                       line=dict(color=p["c_tgt"], width=1.5)))

    axis_common = dict(showline=True, linecolor="#404040", linewidth=2, mirror=False,
                       showgrid=False, zeroline=False, ticks="inside", ticklen=4,
                       tickwidth=1, tickcolor="#404040",
                       tickfont=dict(family=SANS, size=12, color="#555555"),
                       fixedrange=True)
    xkey = "xaxis" if i == 1 else f"xaxis{i}"
    ykey = "yaxis" if i == 1 else f"yaxis{i}"
    layout_axes[xkey] = dict(axis_common, domain=[px_x(p["l"]), px_x(p["r"])],
                             range=[0, p["xmax"]], tickvals=X_TICKS, anchor=ya,
                             ticklabelstandoff=-1)
    layout_axes[ykey] = dict(axis_common, domain=[px_y(p["b"]), px_y(p["t"])],
                             range=[-1, 5], tickvals=Y_TICKS, anchor=xa)

    # axis titles
    annotations.append(dict(text=X_TITLE, xref="paper", yref="paper",
                            x=px_x((p["l"] + p["r"]) / 2 + 1), y=px_y(p["b"] + 26),
                            xanchor="center", yanchor="middle", showarrow=False, borderpad=0,
                            font=dict(family=SERIF, size=16, color="#000000")))
    annotations.append(dict(text=Y_TITLE, xref="paper", yref="paper",
                            x=px_x(p["ytitle_x"]), y=px_y((p["t"] + p["b"]) / 2),
                            xanchor="center", yanchor="middle", textangle=-90, showarrow=False,
                            borderpad=0,
                            font=dict(family=SERIF, size=16, color="#000000")))
    # caption
    annotations.append(dict(text=CAPTIONS[i - 1], xref="paper", yref="paper",
                            x=px_x(p["cap_x"]), y=px_y(p["cap_y"]),
                            xanchor="center", yanchor="middle", showarrow=False,
                            font=dict(family=SERIF, size=17, color="#000000")))

    # legend box (drawn manually, compact like the original)
    L, T = p["l"], p["t"]
    step = 10.4
    rows = [T + 7.8, T + 7.8 + step, T + 7.8 + 2 * step]
    shapes.append(dict(type="rect", xref="paper", yref="paper",
                       x0=px_x(L + 2), x1=px_x(L + 2 + p["legw"]),
                       y0=px_y(rows[2] + 5.6), y1=px_y(T + 2.7),
                       line=dict(color="#000000", width=1.6), fillcolor="#ffffff", layer="above"))
    cols = [p["c_nom"], p["c_noise"], p["c_tgt"]]
    for lab, yy, cc in zip(LEGEND_LABELS, rows, cols):
        shapes.append(dict(type="line", xref="paper", yref="paper",
                           x0=px_x(L + 3.8), x1=px_x(L + 19.3), y0=px_y(yy), y1=px_y(yy),
                           line=dict(color=cc, width=1.5), layer="above"))
        annotations.append(dict(text=lab, xref="paper", yref="paper",
                                x=px_x(L + 20.5), y=px_y(yy), xanchor="left", yanchor="middle",
                                showarrow=False, borderpad=0,
                                font=dict(family=SERIF, size=9.5, color="#000000")))

fig.update_layout(
    width=W, height=H,
    margin=dict(l=0, r=0, t=0, b=0),
    paper_bgcolor="#ffffff", plot_bgcolor="#ffffff",
    showlegend=False,
    shapes=shapes, annotations=annotations,
    **layout_axes,
)

fig.write_html("out.html", config={"displayModeBar": False, "staticPlot": True},
               post_script="document.body.style.margin='0';")
